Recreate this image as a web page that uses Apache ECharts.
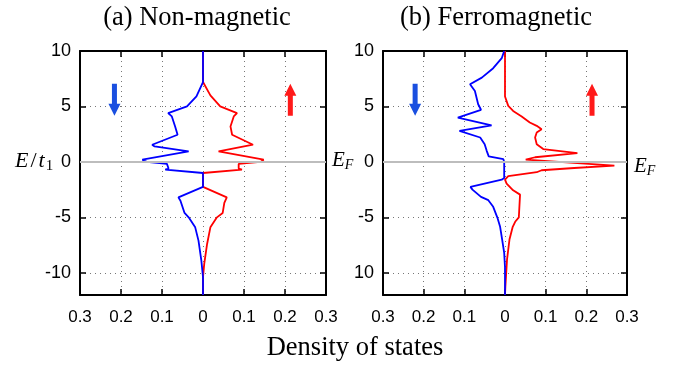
<!DOCTYPE html>
<html>
<head>
<meta charset="utf-8">
<script src="https://cdn.jsdelivr.net/npm/echarts@6/dist/echarts.min.js"></script>
<style>
html,body{margin:0;padding:0;background:#fff}
#main{width:681px;height:369px}
</style>
</head>
<body>
<div id="main"></div>
<script>
// (a) non-magnetic : energy (E/t1) and DOS, spin down (blue) / spin up (red)
var aDownE   = [10, 7.2, 5.9, 5.0, 4.4, 4.1, 3.2, 2.45, 1.55, 1.4, 0.95, 0.2, 0, -0.18, -0.6, -0.7, -1.0, -2.25, -3.2, -3.5, -4.6, -5.0, -5.9, -7.1, -8.9, -10.4, -12]
var aDownDos = [0, 0, 0.016, 0.039, 0.085, 0.076, 0.068, 0.062, 0.124, 0.118, 0.035, 0.148, 0.137, 0.088, 0.084, 0.092, 0, 0, 0.060, 0.055, 0.045, 0.035, 0.019, 0.011, 0.004, 0, 0]
var aUpE     = [10, 7.2, 6.0, 5.0, 4.4, 4.1, 3.2, 2.45, 1.55, 0.95, 0.2, 0, -0.18, -0.6, -0.7, -1.0, -2.25, -3.2, -3.7, -4.6, -5.0, -5.9, -7.4, -9.2, -10.4, -12]
var aUpDos   = [0, 0, 0.018, 0.042, 0.083, 0.075, 0.067, 0.071, 0.122, 0.038, 0.148, 0.14, 0.087, 0.087, 0.095, 0, 0, 0.058, 0.052, 0.048, 0.034, 0.018, 0.010, 0.003, 0, 0]

// (b) ferromagnetic
var bDownE   = [10, 9.35, 8.45, 7.6, 7.0, 6.4, 5.2, 4.7, 4.0, 3.3, 2.8, 2.2, 1.6, 1.0, 0.5, 0.25, 0, -1.46, -1.6, -2.26, -2.5, -3.15, -3.45, -4.05, -5.0, -5.85, -7.0, -8.2, -9.5, -12]
var bDownDos = [0.002, 0.008, 0.029, 0.057, 0.086, 0.074, 0.066, 0.059, 0.116, 0.033, 0.112, 0.061, 0.05, 0.045, 0.04, 0.004, 0.002, 0.002, 0.008, 0.085, 0.08, 0.059, 0.041, 0.029, 0.019, 0.012, 0.007, 0.002, 0, 0]
var bUpE     = [10, 5.9, 5.05, 4.6, 4.1, 3.55, 3.25, 2.95, 2.65, 2.2, 1.6, 1.16, 0.8, 0.42, 0.2, -0.33, -0.55, -0.75, -0.93, -1.28, -1.6, -1.96, -2.56, -2.95, -5.0, -5.4, -5.85, -7.0, -8.8, -11.2, -12]
var bUpDos   = [0, 0, 0.008, 0.020, 0.041, 0.061, 0.078, 0.090, 0.078, 0.074, 0.078, 0.094, 0.178, 0.074, 0.051, 0.269, 0.17, 0.09, 0.078, 0.008, 0, 0.004, 0.020, 0.037, 0.034, 0.025, 0.019, 0.011, 0.005, 0.001, 0]

var yTickLabelsA = {'10':'10', '5':'5', '0':'0', '-5':'-5', '-10':'-10'}
var yTickLabelsB = {'10':'10', '5':'5', '0':'0', '-5':'-5', '-10':'10'}

var BLUE = '#0000ff', RED = '#ff0000'

function pairs(es, ds, sign){
    return es.map(function(e,i){ return [sign*ds[i], e] })
}

var downArrow = 'path://M3.5,0 L8.5,0 L8.5,20 L12,20 L6,32 L0,20 L3.5,20 Z'
var upArrow   = 'path://M6,0 L12,12 L8.5,12 L8.5,32 L3.5,32 L3.5,12 L0,12 Z'

function xAx(grid, pos){
    var main = pos === 'bottom'
    return {
        type:'value', gridIndex:grid, position:pos, min:-0.3, max:0.3, interval:0.1,
        axisLine:{show:true, onZero:false, lineStyle:{color:'#000', width:2}},
        axisTick:{show:true, inside:true, length:6, lineStyle:{color:'#000', width:1.5}},
        splitLine:{show:main, lineStyle:{color:'#777', type:[1,4], width:1}},
        axisLabel:{show:main, margin:14, fontFamily:'Liberation Sans', fontSize:17, color:'#000',
            formatter:function(v){ var a = Math.abs(v); return a < 1e-9 ? '0' : a.toFixed(1) }}
    }
}
function yAx(grid, pos, labels){
    var main = pos === 'left'
    return {
        type:'value', gridIndex:grid, position:pos, min:-12, max:10,
        axisLine:{show:true, onZero:false, lineStyle:{color:'#000', width:2}},
        axisTick:{show:true, inside:true, length:6, lineStyle:{color:'#000', width:1.5}},
        splitLine:{show:main, lineStyle:{color:'#777', type:[1,4], width:1}},
        axisLabel:{show:main, margin:9, showMinLabel:false, fontFamily:'Liberation Sans', fontSize:18, color:'#000',
            formatter:function(v){ var k = String(Math.round(v)); return labels && labels[k] !== undefined ? labels[k] : '' }}
    }
}

function arrowPoint(sym, x, y, color){
    return {coord:[x, y], symbol:sym, symbolSize:[12, 32], itemStyle:{color:color}, label:{show:false}}
}

// gray E_F line, kept in its own series so it sits under the curves
function fermiSeries(xi, yi){
    return {type:'line', xAxisIndex:xi, yAxisIndex:yi, data:[], z:1, silent:true,
        markLine:{silent:true, symbol:'none', label:{show:false},
            lineStyle:{color:'#bdbdbd', width:2, type:'solid'}, data:[{yAxis:0}]}}
}

var chart = echarts.init(document.getElementById('main'))

var serif = 'Liberation Serif'
var option = {
    backgroundColor:'#fff',
    animation:false,
    grid:[
        {left:80, top:51, width:246, height:244},
        {left:383, top:51, width:244, height:244}
    ],
    xAxis:[xAx(0,'bottom'), xAx(0,'top'), xAx(1,'bottom'), xAx(1,'top')],
    yAxis:[yAx(0,'left',yTickLabelsA), yAx(0,'right'), yAx(1,'left',yTickLabelsB), yAx(1,'right')],
    series:[
        fermiSeries(0, 0),
        fermiSeries(2, 2),
        {type:'line', name:'a up', xAxisIndex:0, yAxisIndex:0, data:pairs(aUpE, aUpDos, 1),
            symbol:'none', lineStyle:{color:RED, width:1.8}, z:3,
            markPoint:{data:[arrowPoint(upArrow, 0.213, 5.6, '#ff1a1a')]}},
        {type:'line', name:'a down', xAxisIndex:0, yAxisIndex:0, data:pairs(aDownE, aDownDos, -1),
            symbol:'none', lineStyle:{color:BLUE, width:1.8}, z:4,
            markPoint:{data:[arrowPoint(downArrow, -0.216, 5.6, '#1a4fe0')]}},
        {type:'line', name:'b up', xAxisIndex:2, yAxisIndex:2, data:pairs(bUpE, bUpDos, 1),
            symbol:'none', lineStyle:{color:RED, width:1.8}, z:3,
            markPoint:{data:[arrowPoint(upArrow, 0.214, 5.6, '#ff1a1a')]}},
        {type:'line', name:'b down', xAxisIndex:2, yAxisIndex:2, data:pairs(bDownE, bDownDos, -1),
            symbol:'none', lineStyle:{color:BLUE, width:1.8}, z:4,
            markPoint:{data:[arrowPoint(downArrow, -0.221, 5.6, '#1a4fe0')]}}
    ],
    graphic:[
        {type:'text', x:197, y:18, style:{text:'(a) Non-magnetic', fontFamily:serif, fontSize:26.5, fill:'#000', align:'center', verticalAlign:'middle'}},
        {type:'text', x:496, y:18, style:{text:'(b) Ferromagnetic', fontFamily:serif, fontSize:26.5, fill:'#000', align:'center', verticalAlign:'middle'}},
        {type:'text', x:355, y:348, style:{text:'Density of states', fontFamily:serif, fontSize:26.5, fill:'#000', align:'center', verticalAlign:'middle'}},
        {type:'text', x:15, y:161, style:{text:'{i|E}{s|/}{i|t}{b|1}', verticalAlign:'middle',
            rich:{i:{fontFamily:serif, fontStyle:'italic', fontSize:22, fill:'#000'},
                  s:{fontFamily:serif, fontSize:22, fill:'#000', padding:[0,2,0,2]},
                  b:{fontFamily:serif, fontSize:15, fill:'#000', padding:[10,0,0,1]}}}},
        {type:'text', x:332, y:160, style:{text:'{i|E}{b|F}', verticalAlign:'middle',
            rich:{i:{fontFamily:serif, fontStyle:'italic', fontSize:21, fill:'#000'},
                  b:{fontFamily:serif, fontStyle:'italic', fontSize:14, fill:'#000', padding:[10,0,0,0]}}}},
        {type:'text', x:634, y:166, style:{text:'{i|E}{b|F}', verticalAlign:'middle',
            rich:{i:{fontFamily:serif, fontStyle:'italic', fontSize:21, fill:'#000'},
                  b:{fontFamily:serif, fontStyle:'italic', fontSize:14, fill:'#000', padding:[10,0,0,0]}}}}
    ]
}

chart.setOption(option)
</script>
</body>
</html>
